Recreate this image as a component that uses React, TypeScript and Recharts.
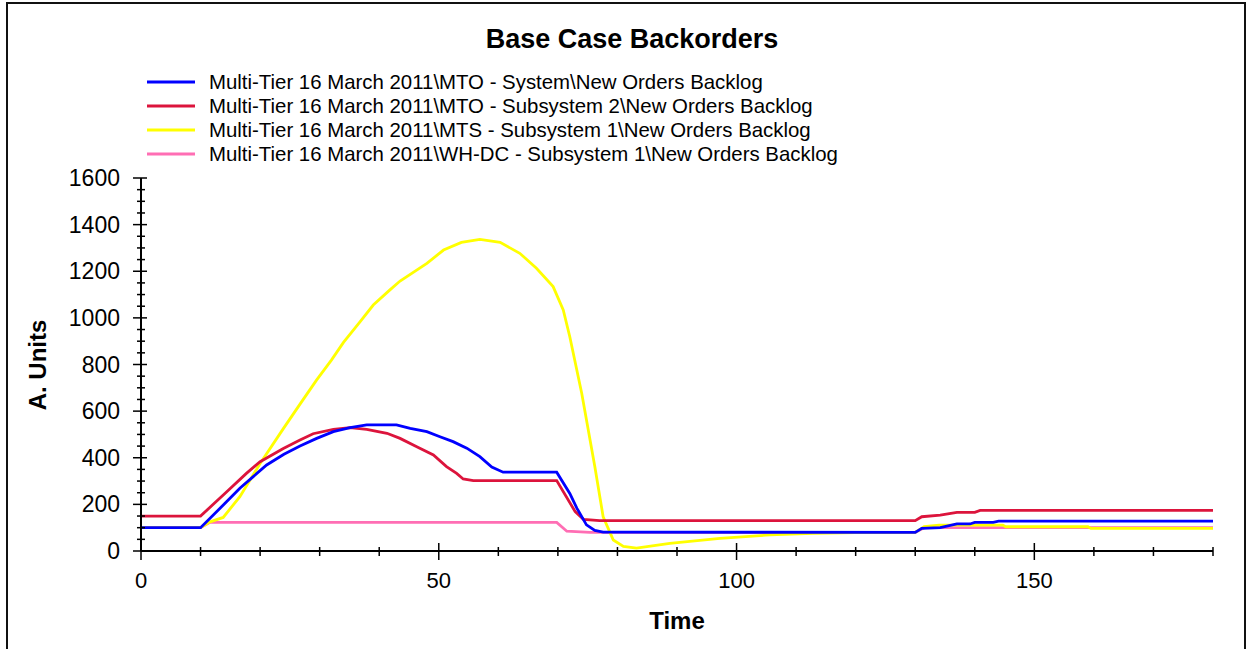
import { LineChart, Line, XAxis, YAxis } from 'recharts'

const FONT = '"Liberation Sans", Arial, Helvetica, sans-serif'

const SERIES_NAMES = [
  'Multi-Tier 16 March 2011\\MTO - System\\New Orders Backlog',
  'Multi-Tier 16 March 2011\\MTO - Subsystem 2\\New Orders Backlog',
  'Multi-Tier 16 March 2011\\MTS - Subsystem 1\\New Orders Backlog',
  'Multi-Tier 16 March 2011\\WH-DC - Subsystem 1\\New Orders Backlog',
]
const SERIES_COLORS = ['#0000ff', '#dc143c', '#ffff00', '#ff6eb4']

const X_TICKS = [0, 10, 20, 30, 40, 50, 60, 70, 80, 90, 100, 110, 120, 130, 140, 150, 160, 170, 180]
const Y_TICKS = [
  0, 50, 100, 150, 200, 250, 300, 350, 400, 450, 500, 550, 600, 650, 700, 750, 800,
  850, 900, 950, 1000, 1050, 1100, 1150, 1200, 1250, 1300, 1350, 1400, 1450, 1500, 1550, 1600,
]

// [time, units]
const mtoSystem: [number, number][] = [
  [0, 100], [10, 100], [14.4, 212], [16.6, 269], [18.8, 318], [21.1, 369], [24, 415],
  [26.7, 450], [29.5, 483], [32.3, 512], [35.1, 529], [37.9, 541], [42.9, 541],
  [45.2, 526], [48, 512], [50.2, 490], [52.4, 469], [54.7, 441], [56.9, 405],
  [58.9, 360], [60.8, 338], [69.8, 338], [72, 247], [73.2, 183], [74.8, 112],
  [76.2, 88], [77.6, 81], [130, 80], [131.1, 97], [134.2, 100], [137, 116],
  [139.2, 116], [140, 123], [143.1, 123], [144, 128], [180, 128],
]

const mtoSub2: [number, number][] = [
  [0, 150], [10, 150], [14.4, 254], [17.7, 333], [20, 383], [23.9, 440], [26.7, 476],
  [28.9, 503], [32.3, 522], [35.1, 529], [37.9, 522], [41.3, 505], [43.5, 483],
  [46.3, 447], [49.1, 412], [51.3, 362], [53, 333], [54.1, 309], [55.8, 302],
  [69.8, 302], [72.9, 169], [74.3, 136], [77, 130], [130, 130], [131.1, 147],
  [134.2, 154], [137, 166], [140, 166], [140.9, 174], [180, 174],
]

const mtsSub1: [number, number][] = [
  [0, 100], [10, 100], [11.6, 125], [13.8, 144], [16.6, 233], [20, 375], [23.9, 525],
  [26.7, 630], [29.5, 734], [32, 820], [34, 895], [36.8, 984], [39, 1055], [41.8, 1120],
  [43.5, 1158], [48, 1234], [50.8, 1291], [53.8, 1324], [56.9, 1337], [60.3, 1324],
  [63.6, 1277], [66.4, 1213], [69.2, 1134], [70.9, 1034], [72, 919], [74, 677],
  [76.2, 362], [77.6, 147], [79.3, 47], [81, 20], [83.2, 12], [88.8, 33], [97.2, 54],
  [105.6, 69], [112.8, 76], [120, 79], [130, 80], [131.5, 105], [134, 111],
  [144.7, 111], [145.2, 104], [159, 104], [159.5, 97], [180, 97],
]

const whdcSub1: [number, number][] = [
  [0, 100], [10, 100], [11.6, 123], [69.8, 123], [71.5, 85], [75.4, 80],
  [130, 80], [131.5, 100], [180, 100],
]

const toPts = (arr: [number, number][]) => arr.map(([t, v]) => ({ t, v }))

// draw order: pink, yellow, red, blue (blue on top)
const DRAW_ORDER = [3, 2, 1, 0]
const SERIES_DATA = [mtoSystem, mtoSub2, mtsSub1, whdcSub1]

const BottomTick = (props: any) => {
  const { x, y, payload } = props
  const major = payload.value % 50 === 0
  return (
    <g>
      <line x1={x} x2={x} y1={y - (major ? 8 : 4)} y2={y + (major ? 9 : 5)} stroke="#000" strokeWidth={1.5} />
      {major && payload.value < 180 && (
        <text x={x} y={y + 37} textAnchor="middle" fontSize={22} fontFamily={FONT} fill="#000">
          {payload.value}
        </text>
      )}
    </g>
  )
}

const LeftTick = (props: any) => {
  const { x, y, payload } = props
  const major = payload.value % 200 === 0
  return (
    <g>
      <line x1={x - (major ? 8 : 4)} x2={x + (major ? 6 : 4)} y1={y} y2={y} stroke="#000" strokeWidth={1.5} />
      {major && (
        <text x={x - 21} y={y + 8} textAnchor="end" fontSize={23} fontFamily={FONT} fill="#000">
          {payload.value}
        </text>
      )}
    </g>
  )
}

const TopTick = (props: any) => {
  const { x, y, payload } = props
  const major = payload.value % 50 === 0
  return <line x1={x} x2={x} y1={y - 1} y2={y + (major ? 6 : 5)} stroke="#222" strokeWidth={1.5} />
}

const RightTick = (props: any) => {
  const { x, y, payload } = props
  const major = payload.value % 200 === 0
  return <line x1={x - (major ? 9 : 6)} x2={x} y1={y} y2={y} stroke="#222" strokeWidth={1.5} />
}

export default function App() {
  return (
    <div style={{ position: 'absolute', left: 0, top: 0, width: 1250, height: 649, overflow: 'hidden', background: '#fff' }}>
      <div
        style={{
          position: 'absolute', left: 6, top: 2, width: 1240, height: 700,
          border: '2px solid #111', boxSizing: 'border-box',
        }}
      />
      <div style={{ position: 'absolute', left: 0, top: 0 }}>
        <LineChart width={1250} height={649} margin={{ top: 178, right: 37, left: 61, bottom: 38 }}>
          <XAxis
            dataKey="t" type="number" domain={[0, 180]} ticks={X_TICKS} interval={0}
            allowDataOverflow tickSize={0} tickMargin={0} tickLine={false} height={60}
            axisLine={{ stroke: '#000', strokeWidth: 2 }}
            tick={(p: any) => <BottomTick {...p} />}
          />
          <XAxis
            xAxisId="top" orientation="top" dataKey="t" type="number" domain={[0, 180]}
            ticks={X_TICKS} interval={0} allowDataOverflow tickSize={0} tickMargin={0}
            tickLine={false} height={0} axisLine={{ stroke: '#222', strokeWidth: 2 }}
            tick={(p: any) => <TopTick {...p} />}
          />
          <YAxis
            type="number" domain={[0, 1600]} ticks={Y_TICKS} interval={0} allowDataOverflow
            tickSize={0} tickMargin={0} tickLine={false} width={80}
            axisLine={{ stroke: '#000', strokeWidth: 2 }}
            tick={(p: any) => <LeftTick {...p} />}
          />
          <YAxis
            yAxisId="right" orientation="right" type="number" domain={[0, 1600]} ticks={Y_TICKS}
            interval={0} allowDataOverflow tickSize={0} tickMargin={0} tickLine={false} width={0}
            axisLine={{ stroke: '#222', strokeWidth: 2 }}
            tick={(p: any) => <RightTick {...p} />}
          />
          {DRAW_ORDER.map((i) => (
            <Line
              key={SERIES_NAMES[i]}
              data={toPts(SERIES_DATA[i])}
              dataKey="v"
              name={SERIES_NAMES[i]}
              type="linear"
              stroke={SERIES_COLORS[i]}
              strokeWidth={2.8}
              dot={false}
              activeDot={false}
              isAnimationActive={false}
            />
          ))}
        </LineChart>
      </div>
      <svg width={1250} height={649} style={{ position: 'absolute', left: 0, top: 0, pointerEvents: 'none' }}>
        <text x={632} y={48} textAnchor="middle" fontSize={27} fontWeight="bold" fontFamily={FONT}>
          Base Case Backorders
        </text>
        {SERIES_NAMES.map((name, i) => (
          <g key={name}>
            <line x1={147} x2={195} y1={82 + i * 24} y2={82 + i * 24} stroke={SERIES_COLORS[i]} strokeWidth={3} />
            <text x={209} y={89 + i * 24} fontSize={20.4} fontFamily={FONT} fill="#000">
              {name}
            </text>
          </g>
        ))}
        <text
          transform="translate(46,365) rotate(-90)" textAnchor="middle" fontSize={24}
          fontWeight="bold" fontFamily={FONT}
        >
          A. Units
        </text>
        <text x={677} y={629} textAnchor="middle" fontSize={24} fontWeight="bold" fontFamily={FONT}>
          Time
        </text>
      </svg>
    </div>
  )
}
